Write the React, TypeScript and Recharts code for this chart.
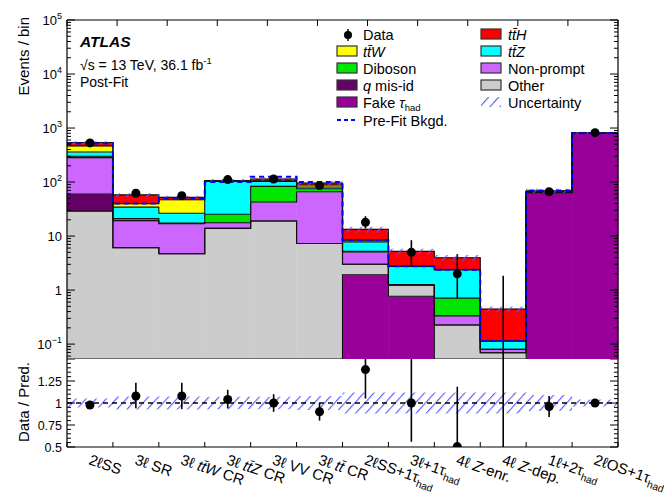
import React from 'react';
import {
  Area,
  Bar,
  ComposedChart,
  ErrorBar,
  Line,
  ReferenceLine,
  Scatter,
  XAxis,
  YAxis,
} from 'recharts';

const FONT = '"Liberation Sans", Arial, Helvetica, sans-serif';

// analysis regions (x bins)
const categories = [
  '2ℓSS',
  '3ℓ SR',
  '3ℓ tt\u0304W CR',
  '3ℓ tt\u0304Z CR',
  '3ℓ VV CR',
  '3ℓ tt\u0304 CR',
  '2ℓSS+1τhad',
  '3ℓ+1τhad',
  '4ℓ Z-enr.',
  '4ℓ Z-dep.',
  '1ℓ+2τhad',
  '2ℓOS+1τhad',
];

// post-fit yields per region, stacked bottom -> top
const fakeTau = [0, 0, 0, 0, 0, 0, 1.92, 0.77, 0, 0, 62, 790];
const other = [29, 6.1, 4.7, 13.9, 19, 7.3, 1.08, 0.48, 0.226, 0.069, 3, 10];
const qMisId = [31, 0, 0, 0, 0, 0, 0, 0, 0, 0, 0, 0];
const nonPrompt = [223, 13.2, 12.3, 3.8, 23.6, 58.7, 2.1, 0, 0.107, 0.011, 0, 0];
const diboson = [17, 1.7, 0.5, 7.7, 40.4, 9, 0.15, 0, 0.377, 0, 0, 0];
const ttZ = [60, 13.4, 9, 77.6, 20, 6, 2.55, 1.5, 1.67, 0.034, 1, 5];
const ttW = [107, 5.4, 20.5, 1.5, 3, 7, 0.6, 0, 0, 0, 0, 0];
const ttH = [74, 18, 5, 2.5, 8, 8, 4.9, 2.45, 1.6, 0.33, 3, 5];

// observed events and their (Poisson) errors
const dataYield = [530, 62, 56, 111, 114, 86, 18, 5, 2, 0, 66, 820];
const dataErrDown = [23, 7.8, 7.4, 10.5, 10.7, 9.3, 4.2, 2.16, 1.29, 0, 8.1, 28.6];
const dataErrUp = [24, 8.9, 8.5, 11.5, 11.7, 10.3, 5.3, 3.38, 2.64, 1.84, 9.2, 29.6];

// pre-fit background total and relative post-fit uncertainty
const preFitBkg = [520, 40, 50, 100, 125, 100, 8.4, 2.75, 2.38, 0.114, 70, 800];
const relUnc = [0.05, 0.075, 0.075, 0.07, 0.07, 0.08, 0.12, 0.12, 0.12, 0.12, 0.09, 0.04];

// data / prediction
const ratio = [0.977, 1.08, 1.08, 1.04, 1.0, 0.9, 1.38, 1.0, 0.505, 0, 0.96, 1.0];
const ratioErrDown = [0.02, 0.14, 0.15, 0.1, 0.1, 0.1, 0.33, 0.44, 0, 0, 0.12, 0.02];
const ratioErrUp = [0.02, 0.15, 0.15, 0.11, 0.1, 0.1, 0.45, 0.7, 0.68, 4.1, 0.12, 0.02];

// axis ticks
const Y_MIN = 0.053;
const Y_MAX = 1e5;
const R_MIN = 0.5;
const R_MAX = 1.5;
const logMajor = [0.1, 1, 10, 100, 1000, 10000, 100000];
const logTickLabels = ['10^-1', '1', '10', '10^2', '10^3', '10^4', '10^5'];
const ratioMajor = [0.5, 0.75, 1, 1.25, 1.5];
const ratioTickLabels = ['0.5', '0.75', '1', '1.25', ''];

const logMinor: number[] = [];
[0.01, 0.1, 1, 10, 100, 1000, 10000].forEach((d) => {
  for (let k = 2; k <= 9; k++) {
    const v = k * d;
    if (v >= Y_MIN && v <= Y_MAX) logMinor.push(v);
  }
});
const logTicks = [...logMajor, ...logMinor];

const ratioMinor: number[] = [];
for (let k = 0; k <= 20; k++) {
  const v = Math.round((0.5 + k * 0.05) * 100) / 100;
  if (!ratioMajor.includes(v)) ratioMinor.push(v);
}
const ratioTicks = [...ratioMajor, ...ratioMinor];

const binEdges = categories.map((_, i) => i).concat(categories.length);
const ratioXTicks = [...binEdges, ...categories.map((_, i) => i + 0.5)];

const layers = [
  { key: 'fakeTau', values: fakeTau, color: '#990099' },
  { key: 'other', values: other, color: '#cccccc' },
  { key: 'qMisId', values: qMisId, color: '#660066' },
  { key: 'nonPrompt', values: nonPrompt, color: '#cc66ff' },
  { key: 'diboson', values: diboson, color: '#00e600' },
  { key: 'ttZ', values: ttZ, color: '#00ffff' },
  { key: 'ttW', values: ttW, color: '#ffff00' },
  { key: 'ttH', values: ttH, color: '#ff0000' },
];

const chartRows = categories.map((name, i) => {
  const row: any = { name };
  layers.forEach((l) => (row[l.key] = l.values[i]));
  return row;
});

const totals = categories.map((_, i) => layers.reduce((s, l) => s + l.values[i], 0));

// rows at bin edges for the step outlines and bands
const stepRows = binEdges.map((e) => {
  const i = Math.min(e, categories.length - 1);
  const row: any = { x: e };
  let cum = 0;
  layers.forEach((l) => {
    cum += l.values[i];
    row['cum_' + l.key] = Math.max(cum, Y_MIN);
  });
  row.preFit = preFitBkg[i];
  row.band = [totals[i] * (1 - relUnc[i]), totals[i] * (1 + relUnc[i])];
  row.ratioBand = [1 - relUnc[i], 1 + relUnc[i]];
  return row;
});

const dataPoints = categories.map((_, i) => ({
  x: i + 0.5,
  y: dataYield[i] > 0 ? dataYield[i] : Y_MIN,
  n: dataYield[i],
  err: [dataYield[i] > 0 ? dataErrDown[i] : 0, dataErrUp[i] - (dataYield[i] > 0 ? 0 : Y_MIN)],
}));

// ratio points, with the error bars cut at the panel edges
const ratioPoints = categories.map((_, i) => {
  const r = Math.max(ratio[i], R_MIN);
  const lo = Math.max(ratio[i] - ratioErrDown[i], R_MIN);
  const hi = Math.min(ratio[i] + ratioErrUp[i], R_MAX);
  return { x: i + 0.5, r, n: dataYield[i], err: [r - lo, hi - r] };
});

function powerLabel(s: string) {
  const [base, exp] = s.split('^');
  if (!exp) return base;
  return [
    <tspan key="b">{base}</tspan>,
    <tspan key="e" dy={-6} fontSize={9}>
      {exp.replace('-', '\u2212')}
    </tspan>,
  ];
}

function richLabel(text: string, size: number) {
  const parts = text.split(/(tt\u0304W|tt\u0304Z|tt\u0304|Z-|had)/).filter(Boolean);
  return parts.map((p, i) => {
    if (p === 'had')
      return (
        <tspan key={i} fontSize={size * 0.68} dy={size * 0.3}>
          had
        </tspan>
      );
    if (p === 'Z-')
      return (
        <tspan key={i}>
          <tspan fontStyle="italic">Z</tspan>-
        </tspan>
      );
    if (p.startsWith('tt'))
      return (
        <tspan key={i} fontStyle="italic">
          {p}
        </tspan>
      );
    return <tspan key={i}>{p}</tspan>;
  });
}

const Y_TICK_MARGIN = 5;

const leftLogTick = (props: any) => {
  const { x, y, payload } = props;
  const idx = logMajor.indexOf(payload.value);
  const x0 = x + Y_TICK_MARGIN;
  return (
    <g>
      <line x1={x0} x2={x0 + (idx >= 0 ? 8 : 4)} y1={y} y2={y} stroke="#000" strokeWidth={1} />
      {idx >= 0 && (
        <text x={x} y={y + 4.5} textAnchor="end" fontSize={13} fill="#000">
          {powerLabel(logTickLabels[idx])}
        </text>
      )}
    </g>
  );
};

const rightLogTick = (props: any) => {
  const { x, y, payload } = props;
  const major = logMajor.includes(payload.value);
  return <line x1={x} x2={x - (major ? 8 : 4)} y1={y} y2={y} stroke="#000" strokeWidth={1} />;
};

const leftRatioTick = (props: any) => {
  const { x, y, payload } = props;
  const idx = ratioMajor.indexOf(payload.value);
  const x0 = x + Y_TICK_MARGIN;
  const label = idx >= 0 ? ratioTickLabels[idx] : '';
  return (
    <g>
      <line x1={x0} x2={x0 + (idx >= 0 ? 8 : 4)} y1={y} y2={y} stroke="#000" strokeWidth={1} />
      {label !== '' && (
        <text x={x} y={y + 4.5} textAnchor="end" fontSize={12.5} fill="#000">
          {label}
        </text>
      )}
    </g>
  );
};

const rightRatioTick = (props: any) => {
  const { x, y, payload } = props;
  const major = ratioMajor.includes(payload.value);
  return <line x1={x} x2={x - (major ? 8 : 4)} y1={y} y2={y} stroke="#000" strokeWidth={1} />;
};

const bottomEdgeTick = (props: any) => (
  <line x1={props.x} x2={props.x} y1={props.y} y2={props.y - 6} stroke="#000" strokeWidth={1} />
);

const topEdgeTick = (props: any) => (
  <line x1={props.x} x2={props.x} y1={props.y} y2={props.y + 6} stroke="#000" strokeWidth={1} />
);

const ratioXTick = (props: any) => {
  const { x, y, payload } = props;
  const v = payload.value;
  if (Number.isInteger(v)) {
    return <line x1={x} x2={x} y1={y} y2={y - 5} stroke="#000" strokeWidth={1} />;
  }
  const tx = x - 2;
  const ty = y + 17;
  return (
    <text x={tx} y={ty} fontSize={15} fill="#000" transform={`rotate(19, ${tx}, ${ty})`}>
      {richLabel(categories[Math.floor(v)], 15)}
    </text>
  );
};

const dataMarker = (props: any) =>
  props.payload && props.payload.n > 0 ? (
    <circle cx={props.cx} cy={props.cy} r={4.5} fill="#000" />
  ) : (
    <g />
  );

const axisLine = { stroke: '#000', strokeWidth: 1.2 };

function LegendBox({ x, y, color, hatch }: { x: number; y: number; color?: string; hatch?: boolean }) {
  if (hatch) return <rect x={x} y={y - 11} width={20} height={10} fill="url(#hatch)" />;
  return <rect x={x} y={y - 11} width={20} height={10} fill={color} stroke="#333" strokeWidth={1.2} />;
}

export default function App() {
  const rows = [40, 57, 74, 91, 108, 125];
  const c1Box = 337;
  const c1Text = 363;
  const c2Box = 481;
  const c2Text = 508;
  return (
    <div
      style={{
        position: 'absolute',
        left: 0,
        top: 0,
        width: 664,
        height: 498,
        background: '#fff',
        fontFamily: FONT,
        overflow: 'hidden',
      }}
    >
      <svg width={0} height={0} style={{ position: 'absolute' }}>
        <defs>
          <pattern id="hatch" patternUnits="userSpaceOnUse" width={7.5} height={7.5} patternTransform="rotate(42)">
            <line x1={0.6} y1={0} x2={0.6} y2={7.5} stroke="#5555ff" strokeWidth={1.1} />
          </pattern>
        </defs>
      </svg>

      <div style={{ position: 'absolute', left: 0, top: 0 }}>
        <ComposedChart
          width={664}
          height={360}
          data={chartRows}
          margin={{ top: 19, right: 45, bottom: 0, left: 17 }}
          barCategoryGap={0}
          barGap={0}
        >
          <XAxis xAxisId="cat" dataKey="name" type="category" hide />
          <XAxis
            xAxisId="num"
            dataKey="x"
            type="number"
            domain={[0, 12]}
            allowDataOverflow
            ticks={binEdges}
            interval={0}
            height={1}
            tickSize={0}
            tickMargin={0}
            tickLine={false}
            axisLine={axisLine}
            tick={bottomEdgeTick}
          />
          <XAxis
            xAxisId="top"
            orientation="top"
            type="number"
            domain={[0, 12]}
            allowDataOverflow
            ticks={binEdges}
            interval={0}
            height={1}
            tickSize={0}
            tickMargin={0}
            tickLine={false}
            axisLine={axisLine}
            tick={topEdgeTick}
          />
          <YAxis
            yAxisId="left"
            type="number"
            scale="log"
            domain={[Y_MIN, Y_MAX]}
            allowDataOverflow
            ticks={logTicks}
            interval={0}
            width={50}
            tickSize={0}
            tickMargin={Y_TICK_MARGIN}
            tickLine={false}
            axisLine={axisLine}
            tick={leftLogTick}
          />
          <YAxis
            yAxisId="right"
            orientation="right"
            type="number"
            scale="log"
            domain={[Y_MIN, Y_MAX]}
            allowDataOverflow
            ticks={logTicks}
            interval={0}
            width={1}
            tickSize={0}
            tickMargin={0}
            tickLine={false}
            axisLine={axisLine}
            tick={rightLogTick}
          />
          {layers.map((l) => (
            <Bar
              key={l.key}
              xAxisId="cat"
              yAxisId="left"
              dataKey={l.key}
              stackId="mc"
              fill={l.color}
              stroke={l.color}
              strokeWidth={0.5}
              isAnimationActive={false}
            />
          ))}
          {layers.map((l) => (
            <Line
              key={'cum_' + l.key}
              xAxisId="num"
              yAxisId="left"
              data={stepRows}
              dataKey={'cum_' + l.key}
              type="stepAfter"
              stroke="#111"
              strokeWidth={1.1}
              dot={false}
              activeDot={false}
              isAnimationActive={false}
            />
          ))}
          <Area
            xAxisId="num"
            yAxisId="left"
            data={stepRows}
            dataKey="band"
            type="stepAfter"
            fill="url(#hatch)"
            fillOpacity={1}
            stroke="none"
            isAnimationActive={false}
            zIndex={450}
          />
          <Line
            xAxisId="num"
            yAxisId="left"
            data={stepRows}
            dataKey="preFit"
            type="stepAfter"
            stroke="#0000ff"
            strokeWidth={2}
            strokeDasharray="5 4"
            dot={false}
            activeDot={false}
            isAnimationActive={false}
            zIndex={460}
          />
          <Scatter
            xAxisId="num"
            yAxisId="left"
            data={dataPoints}
            dataKey="y"
            shape={dataMarker}
            isAnimationActive={false}
          >
            <ErrorBar dataKey="err" direction="y" width={0} stroke="#000" strokeWidth={1.6} />
          </Scatter>
        </ComposedChart>
      </div>

      <div style={{ position: 'absolute', left: 0, top: 359 }}>
        <ComposedChart width={664} height={139} margin={{ top: 0, right: 45, bottom: 0, left: 17 }}>
          <XAxis
            xAxisId="num"
            dataKey="x"
            type="number"
            domain={[0, 12]}
            allowDataOverflow
            ticks={ratioXTicks}
            interval={0}
            height={51}
            tickSize={0}
            tickMargin={0}
            tickLine={false}
            axisLine={axisLine}
            tick={ratioXTick}
          />
          <YAxis
            yAxisId="left"
            type="number"
            domain={[R_MIN, R_MAX]}
            allowDataOverflow
            ticks={ratioTicks}
            interval={0}
            width={50}
            tickSize={0}
            tickMargin={Y_TICK_MARGIN}
            tickLine={false}
            axisLine={axisLine}
            tick={leftRatioTick}
          />
          <YAxis
            yAxisId="right"
            orientation="right"
            type="number"
            domain={[R_MIN, R_MAX]}
            allowDataOverflow
            ticks={ratioTicks}
            interval={0}
            width={1}
            tickSize={0}
            tickMargin={0}
            tickLine={false}
            axisLine={axisLine}
            tick={rightRatioTick}
          />
          <Area
            xAxisId="num"
            yAxisId="left"
            data={stepRows}
            dataKey="ratioBand"
            type="stepAfter"
            fill="url(#hatch)"
            fillOpacity={1}
            stroke="none"
            isAnimationActive={false}
          />
          <ReferenceLine xAxisId="num" yAxisId="left" y={1} stroke="#000" strokeWidth={1.4} strokeDasharray="5 4" />
          <Scatter
            xAxisId="num"
            yAxisId="left"
            data={ratioPoints}
            dataKey="r"
            shape={dataMarker}
            isAnimationActive={false}
          >
            <ErrorBar dataKey="err" direction="y" width={0} stroke="#000" strokeWidth={1.6} />
          </Scatter>
        </ComposedChart>
      </div>

      <svg
        width={664}
        height={498}
        style={{ position: 'absolute', left: 0, top: 0, pointerEvents: 'none' }}
        fontFamily={FONT}
      >
        <text x={29} y={17} fontSize={15} textAnchor="end" transform="rotate(-90, 29, 17)">
          Events / bin
        </text>
        <text x={29} y={402} fontSize={15} textAnchor="middle" transform="rotate(-90, 29, 402)">
          Data / Pred.
        </text>

        <text x={80} y={47} fontSize={15.5} fontWeight="bold" fontStyle="italic">
          ATLAS
        </text>
        <text x={80} y={70} fontSize={14}>
          √s = 13 TeV, 36.1 fb
          <tspan dy={-6} fontSize={9.5}>
            -1
          </tspan>
        </text>
        <text x={80} y={87} fontSize={14}>
          Post-Fit
        </text>

        {/* legend, left column */}
        <line x1={348} x2={348} y1={rows[0] - 11} y2={rows[0] + 1} stroke="#000" strokeWidth={1.4} />
        <circle cx={348} cy={rows[0] - 5} r={4} fill="#000" />
        <text x={c1Text} y={rows[0]} fontSize={14.5}>
          Data
        </text>
        <LegendBox x={c1Box} y={rows[1]} color="#ffff00" />
        <text x={c1Text} y={rows[1]} fontSize={14.5} fontStyle="italic">
          tt{'\u0304'}W
        </text>
        <LegendBox x={c1Box} y={rows[2]} color="#00e600" />
        <text x={c1Text} y={rows[2]} fontSize={14.5}>
          Diboson
        </text>
        <LegendBox x={c1Box} y={rows[3]} color="#660066" />
        <text x={c1Text} y={rows[3]} fontSize={14.5}>
          <tspan fontStyle="italic">q</tspan> mis-id
        </text>
        <LegendBox x={c1Box} y={rows[4]} color="#990099" />
        <text x={c1Text} y={rows[4]} fontSize={14.5}>
          Fake <tspan fontStyle="italic">τ</tspan>
          <tspan fontSize={9.5} dy={3}>
            had
          </tspan>
        </text>
        <line
          x1={c1Box}
          x2={c1Box + 20}
          y1={rows[5] - 5}
          y2={rows[5] - 5}
          stroke="#0000ff"
          strokeWidth={2}
          strokeDasharray="4 3"
        />
        <text x={c1Text} y={rows[5] + 1} fontSize={14.5}>
          Pre-Fit Bkgd.
        </text>

        {/* legend, right column */}
        <LegendBox x={c2Box} y={rows[0]} color="#ff0000" />
        <text x={c2Text} y={rows[0]} fontSize={14.5} fontStyle="italic">
          tt{'\u0304'}H
        </text>
        <LegendBox x={c2Box} y={rows[1]} color="#00ffff" />
        <text x={c2Text} y={rows[1]} fontSize={14.5} fontStyle="italic">
          tt{'\u0304'}Z
        </text>
        <LegendBox x={c2Box} y={rows[2]} color="#cc66ff" />
        <text x={c2Text} y={rows[2]} fontSize={14.5}>
          Non-prompt
        </text>
        <LegendBox x={c2Box} y={rows[3]} color="#cccccc" />
        <text x={c2Text} y={rows[3]} fontSize={14.5}>
          Other
        </text>
        <LegendBox x={c2Box} y={rows[4]} hatch />
        <text x={c2Text} y={rows[4]} fontSize={14.5}>
          Uncertainty
        </text>
      </svg>
    </div>
  );
}
